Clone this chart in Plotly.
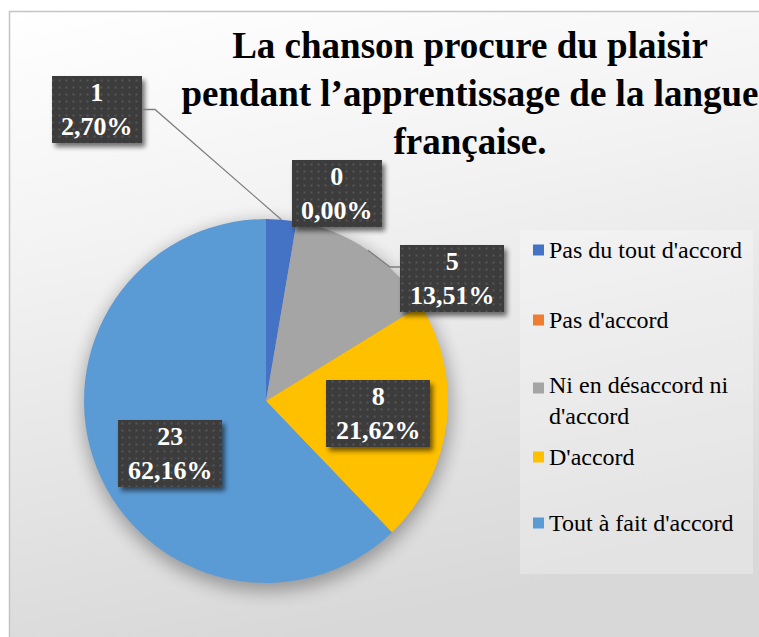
import math
import base64
import plotly.graph_objects as go

# ---------------- data ----------------
categories = ["Pas du tout d'accord", "Pas d'accord", "Ni en désaccord ni d'accord",
              "D'accord", "Tout à fait d'accord"]
legend_labels = ["Pas du tout d'accord", "Pas d'accord", "Ni en désaccord ni<br>d'accord",
                 "D'accord", "Tout à fait d'accord"]
counts = [1, 0, 5, 8, 23]
colors = ["#4472C4", "#ED7D31", "#A5A5A5", "#FFC000", "#5B9BD5"]
title_text = "La chanson procure du plaisir<br>pendant l’apprentissage de la langue<br>française."

SERIF = "Liberation Serif"

# ---------------- layout geometry (pixels) ----------------
W, H = 759, 637
CX, CY, R = 266, 401, 182
label_boxes = [(97, 109.5, 90, 67), (337, 193.5, 90, 67), (452, 278.5, 104, 67),
               (378, 413.5, 104, 67), (170, 453.5, 104, 67)]
legend_y = [250, 320, 400, 457, 523]
legend_sq_y = [250, 320, 388, 457, 523]


def px(x):
    return x / W


def py(y):
    return 1 - y / H


total = sum(counts)
pct = [c / total * 100 for c in counts]
label_text = [f"{c}<br>{p:.2f}%".replace(".", ",") for c, p in zip(counts, pct)]


def edge_point(i):
    cum = sum(counts[:i]) + counts[i] / 2
    th = 2 * math.pi * cum / total
    return CX + R * math.sin(th), CY - R * math.cos(th)


# ---------------- background svg ----------------
bg_svg = f"""<svg xmlns='http://www.w3.org/2000/svg' width='{W}' height='{H}'>
<defs>
<linearGradient id='g' x1='0' y1='0' x2='0.25' y2='1'>
<stop offset='0' stop-color='#ffffff'/>
<stop offset='0.35' stop-color='#f3f3f3'/>
<stop offset='1' stop-color='#d8d8d8'/>
</linearGradient>
<filter id='blur' x='-30%' y='-30%' width='160%' height='160%'><feGaussianBlur stdDeviation='9'/></filter>
</defs>
<rect width='{W}' height='{H}' fill='#ffffff'/>
<rect x='9.5' y='11.5' width='{W+10}' height='{H+10}' fill='url(#g)' stroke='#c4c4c4' stroke-width='1.5'/>
<rect x='520' y='230' width='233' height='344' fill='#ffffff' opacity='0.28'/>
<circle cx='{CX+1}' cy='{CY+6}' r='{R+2}' fill='#000000' opacity='0.32' filter='url(#blur)'/>
</svg>"""

box_svg_parts = [f"<svg xmlns='http://www.w3.org/2000/svg' width='{W}' height='{H}'>",
                 "<defs><pattern id='d' width='7' height='7' patternUnits='userSpaceOnUse'>"
                 "<rect width='7' height='7' fill='#3c3c3c'/><rect x='2.5' y='2.5' width='2' height='2' fill='#555555'/>"
                 "</pattern><filter id='b' x='-30%' y='-30%' width='160%' height='160%'>"
                 "<feGaussianBlur stdDeviation='2.5'/></filter></defs>"]
for (bx, by, bw, bh) in label_boxes:
    x0, y0 = bx - bw / 2, by - bh / 2
    box_svg_parts.append(f"<rect x='{x0+3}' y='{y0+4}' width='{bw}' height='{bh}' fill='#000' opacity='0.55' filter='url(#b)'/>")
    box_svg_parts.append(f"<rect x='{x0}' y='{y0}' width='{bw}' height='{bh}' fill='url(#d)'/>")
box_svg_parts.append("</svg>")
box_svg = "".join(box_svg_parts)


def data_uri(svg):
    return "data:image/svg+xml;base64," + base64.b64encode(svg.encode("utf-8")).decode("ascii")


# ---------------- figure ----------------
fig = go.Figure()
fig.add_trace(go.Pie(
    labels=categories, values=counts, sort=False, direction="clockwise", rotation=0,
    marker=dict(colors=colors, line=dict(width=0)),
    textinfo="none", showlegend=False, hoverinfo="label+value+percent",
    domain=dict(x=[px(CX - R), px(CX + R)], y=[py(CY + R), py(CY - R)]),
))

images = [
    dict(source=data_uri(bg_svg), xref="paper", yref="paper", x=0, y=1, sizex=1, sizey=1,
         xanchor="left", yanchor="top", sizing="stretch", layer="below"),
    dict(source=data_uri(box_svg), xref="paper", yref="paper", x=0, y=1, sizex=1, sizey=1,
         xanchor="left", yanchor="top", sizing="stretch", layer="above"),
]

shapes = []
annotations = []

# leader lines
ex, ey = edge_point(0)
bx, by, bw, bh = label_boxes[0]
shapes.append(dict(type="path", xref="paper", yref="paper",
                   path=f"M {px(bx+bw/2)} {py(by)} L {px(bx+bw/2+13)} {py(by)} L {px(ex)} {py(ey)}",
                   line=dict(color="#7f7f7f", width=1.3), layer="above"))
ex, ey = edge_point(2)
bx, by, bw, bh = label_boxes[2]
shapes.append(dict(type="path", xref="paper", yref="paper",
                   path=f"M {px(bx-bw/2)} {py(267)} L {px(bx-bw/2-10)} {py(267)} L {px(ex)} {py(ey)}",
                   line=dict(color="#7f7f7f", width=1.3), layer="above"))

# data labels
for (bx, by, bw, bh), t in zip(label_boxes, label_text):
    annotations.append(dict(x=px(bx), y=py(by), xref="paper", yref="paper", text=t, showarrow=False,
                            xanchor="center", yanchor="middle", align="center",
                            font=dict(family=SERIF, size=26, color="white", weight="bold")))

# legend
for lab, col, ly, sy in zip(legend_labels, colors, legend_y, legend_sq_y):
    shapes.append(dict(type="rect", xref="paper", yref="paper",
                       x0=px(533), x1=px(544), y0=py(sy + 5.5), y1=py(sy - 5.5),
                       fillcolor=col, line=dict(width=0), layer="above"))
    annotations.append(dict(x=px(547), y=py(ly), xref="paper", yref="paper", text=lab, showarrow=False,
                            xanchor="left", yanchor="middle", align="left",
                            font=dict(family=SERIF, size=24, color="#000000")))

fig.update_layout(
    width=W, height=H, margin=dict(l=0, r=0, t=0, b=0),
    paper_bgcolor="white", plot_bgcolor="rgba(0,0,0,0)",
    title=dict(text=title_text, x=px(470), xanchor="center", y=py(58), yanchor="middle",
               font=dict(family=SERIF, size=37, color="black", weight="bold")),
    images=images, shapes=shapes, annotations=annotations, showlegend=False,
)

fig.write_html("out.html", config={"displayModeBar": False},
               post_script="document.body.style.margin='0';document.body.style.overflow='hidden';")
